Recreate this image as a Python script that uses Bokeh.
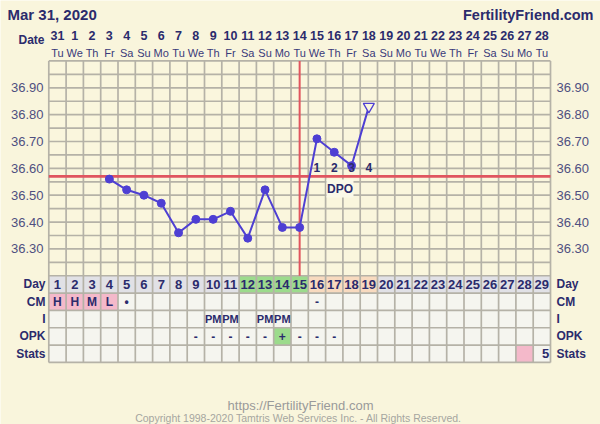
import numpy as np
from bokeh.plotting import figure
from bokeh.models import Range1d
from bokeh.core.properties import value
from bokeh.embed import file_html
from bokeh.resources import INLINE

# ---------------- data ----------------
chart_date = "Mar 31, 2020"
site_name = "FertilityFriend.com"
footer_url = "https://FertilityFriend.com"
footer_copy = "Copyright 1998-2020 Tamtris Web Services Inc. - All Rights Reserved."

cycle_days = [1, 2, 3, 4, 5, 6, 7, 8, 9, 10, 11, 12, 13, 14, 15,
              16, 17, 18, 19, 20, 21, 22, 23, 24, 25, 26, 27, 28, 29]
calendar_dates = ["31", "1", "2", "3", "4", "5", "6", "7", "8", "9", "10", "11", "12", "13", "14",
                  "15", "16", "17", "18", "19", "20", "21", "22", "23", "24", "25", "26", "27", "28"]
weekdays = ["Tu", "We", "Th", "Fr", "Sa", "Su", "Mo", "Tu", "We", "Th", "Fr", "Sa", "Su", "Mo", "Tu",
            "We", "Th", "Fr", "Sa", "Su", "Mo", "Tu", "We", "Th", "Fr", "Sa", "Su", "Mo", "Tu"]

temp_days = [4, 5, 6, 7, 8, 9, 10, 11, 12, 13, 14, 15, 16, 17, 18]
temps = [36.56, 36.52, 36.50, 36.47, 36.36, 36.41, 36.41, 36.44, 36.34, 36.52, 36.38, 36.38,
         36.71, 36.66, 36.61]
open_days = [19]
open_temps = [36.83]
coverline = 36.57
ovulation_day = 15
temp_ticks = [36.30, 36.40, 36.50, 36.60, 36.70, 36.80, 36.90]
temp_tick_labels = ["36.30", "36.40", "36.50", "36.60", "36.70", "36.80", "36.90"]

row_names = ["Day", "CM", "I", "OPK", "Stats"]
fertile_days = [12, 13, 14, 15]
luteal_days = [16, 17, 18, 19]
cm_days = [1, 2, 3, 4, 5, 16]
cm_codes = ["H", "H", "M", "L", "\u2022", "-"]
cm_pink_days = [1, 2, 3, 4]
int_days = [10, 11, 13, 14]
int_codes = ["PM", "PM", "PM", "PM"]
opk_days = [9, 10, 11, 12, 13, 14, 15, 16, 17]
opk_codes = ["-", "-", "-", "-", "-", "+", "-", "-", "-"]
opk_pos_days = [14]
stats_days = [29]
stats_codes = ["5"]
stats_pink_days = [28]
dpo_days = [16, 17, 18, 19]
dpo_codes = ["1", "2", "3", "4"]

# ---------------- layout / style ----------------
W, H = 600, 424
PX_X = 17.30
X_LEFT = 0.5 - 48.3 / PX_X
PX_Y = 268.5
T_TOP, T_BOT = 37.00, 36.20
Y_TOP = T_TOP + 60.45 / PX_Y
ROW_H = 17.33 / PX_Y
LOW_BOT = T_BOT - 5 * ROW_H

def cx(px):
    return X_LEFT + px / PX_X

def cy(px):
    return Y_TOP - px / PX_Y

BG = "#F9F5DC"
PLOT_BG = "#FAF6DD"
GRID = "#B5B2A7"
LOW_BG = "#F5F5EF"
DAY_BG = "#E1E1E6"
GREEN = "#9CDB8C"
PEACH = "#F8DABF"
PINK = "#F4B9CA"
NAVY = "#2B2B6C"
TICK = "#4F4F80"
BLUE = "#4E3FD3"
RED = "#E0555F"
FONT = "Liberation Sans"

p = figure(width=W, height=H,
           x_range=Range1d(X_LEFT, X_LEFT + W / PX_X),
           y_range=Range1d(Y_TOP - H / PX_Y, Y_TOP),
           output_backend="svg", toolbar_location=None,
           x_axis_location=None, y_axis_location=None,
           min_border=0, background_fill_color=BG, border_fill_color=BG,
           outline_line_color=None)
p.title.visible = False
p.grid.visible = False

first, last = cycle_days[0] - 0.5, cycle_days[-1] + 0.5

# temperature area background
p.quad(left=[first], right=[last], top=[T_TOP], bottom=[T_BOT], fill_color=PLOT_BG, line_color=None)

# lower rows cells
L, R, Tp, Bt, C = [], [], [], [], []
for i, name in enumerate(row_names):
    top = T_BOT - i * ROW_H
    for d in cycle_days:
        if name == "Day":
            col = GREEN if d in fertile_days else (PEACH if d in luteal_days else DAY_BG)
        elif name == "CM":
            col = PINK if d in cm_pink_days else LOW_BG
        elif name == "OPK":
            col = GREEN if d in opk_pos_days else LOW_BG
        elif name == "Stats":
            col = PINK if d in stats_pink_days else LOW_BG
        else:
            col = LOW_BG
        L.append(d - 0.5); R.append(d + 0.5); Tp.append(top); Bt.append(top - ROW_H); C.append(col)
p.quad(left=L, right=R, top=Tp, bottom=Bt, fill_color=C, line_color=None)

# grid
col_edges = [d - 0.5 for d in cycle_days] + [last]
p.segment(x0=col_edges, x1=col_edges, y0=LOW_BOT, y1=T_TOP, line_color=GRID, line_width=1.7)
temp_lines = list(np.round(np.arange(T_BOT, T_TOP + 1e-9, 0.05), 2))
row_edges = [T_BOT - i * ROW_H for i in range(1, 6)]
hl = temp_lines + row_edges
p.segment(x0=first, x1=last, y0=hl, y1=hl, line_color=GRID, line_width=1.7)

# coverline & ovulation line
p.segment(x0=[first], x1=[last], y0=[coverline], y1=[coverline], line_color=RED, line_width=2.6)
p.segment(x0=[ovulation_day], x1=[ovulation_day], y0=[T_BOT], y1=[T_TOP], line_color=RED, line_width=2)

# DPO box
p.quad(left=[cx(326)], right=[cx(353)], top=[cy(179)], bottom=[cy(197)], fill_color="#FBF9E8", line_color=None)

# temperatures
p.line(temp_days + open_days, temps + open_temps, line_color=BLUE, line_width=2)
p.scatter(temp_days, temps, size=8, color=BLUE)
p.scatter(open_days, open_temps, marker="inverted_triangle", size=11,
          fill_color=PLOT_BG, line_color=BLUE, line_width=1.3)


def txt(x, y, t, size, color=NAVY, bold=True, align="center", baseline="middle"):
    p.text(x=x, y=y, text=t, text_font=value(FONT), text_font_size=f"{size}px",
           text_font_style="bold" if bold else "normal", text_color=color,
           text_align=align, text_baseline=baseline)

# header
txt([cx(7)], [cy(14)], [chart_date], 15, align="left", baseline="alphabetic")
txt([cx(593)], [cy(14)], [site_name], 14.5, align="right", baseline="alphabetic")
txt([cx(44)], [cy(39)], ["Date"], 12, align="right", baseline="alphabetic")
txt(cycle_days, [cy(35)] * len(cycle_days), calendar_dates, 12.5, baseline="alphabetic")
txt(cycle_days, [cy(52)] * len(cycle_days), weekdays, 11, color="#3A3A7A", bold=False, baseline="alphabetic")

# temperature tick labels
txt([cx(43)] * len(temp_ticks), temp_ticks, temp_tick_labels, 13, color=TICK, bold=False, align="right")
txt([cx(556)] * len(temp_ticks), temp_ticks, temp_tick_labels, 13, color=TICK, bold=False, align="left")

# row labels
row_y = [T_BOT - (i + 0.5) * ROW_H for i in range(len(row_names))]
txt([cx(45)] * len(row_names), row_y, row_names, 12, align="right")
txt([cx(556)] * len(row_names), row_y, row_names, 12, align="left")

# cells
txt(cycle_days, [row_y[0]] * len(cycle_days), [str(d) for d in cycle_days], 13)
txt(cm_days, [row_y[1]] * len(cm_days), cm_codes, 12)
txt(int_days, [row_y[2]] * len(int_days), int_codes, 11)
txt(opk_days, [row_y[3]] * len(opk_days), opk_codes, 12)
txt([d + 0.42 for d in stats_days], [row_y[4]] * len(stats_days), stats_codes, 13, align="right")

# DPO
txt(dpo_days, [coverline + 0.035] * len(dpo_days), dpo_codes, 12)
txt([cx(339.5)], [cy(188)], ["DPO"], 12)

# footer
txt([cx(300)], [cy(405)], [footer_url], 13, color="#9A9A9A", bold=False, baseline="alphabetic")
txt([cx(298)], [cy(417)], [footer_copy], 10.5, color="#A6A6A0", bold=False, baseline="alphabetic")

open("out.html", "w").write(file_html(p, INLINE))
